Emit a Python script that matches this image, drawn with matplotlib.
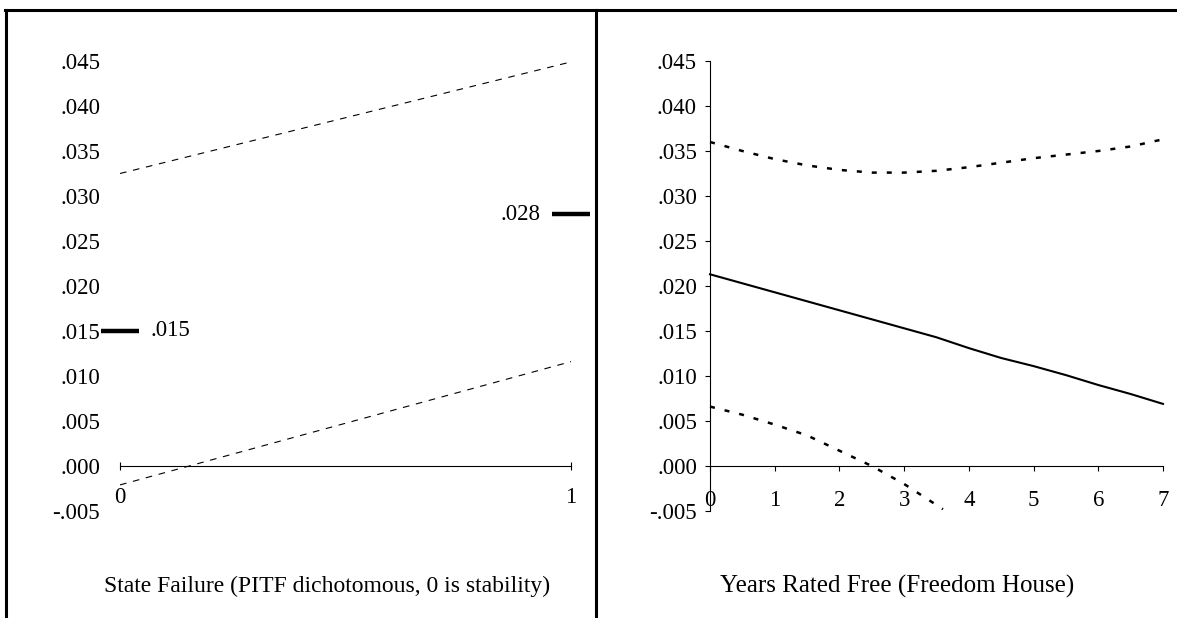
import matplotlib
matplotlib.use("Agg")
import matplotlib.pyplot as plt
from matplotlib.lines import Line2D
from matplotlib.ticker import FuncFormatter

plt.rcParams['font.family'] = ['Liberation Serif', 'DejaVu Serif']

# ---------------- data ----------------
# Left panel: State Failure (dichotomous)
sf_x = [0, 1]
sf_est = [0.015, 0.028]
sf_upper = [0.0325, 0.0449]
sf_lower = [-0.0021, 0.0116]
sf_est_labels = ['.015', '.028']
sf_xticks = [0, 1]

# Right panel: Years Rated Free
fh_x = [0, 0.5, 1, 1.5, 2, 2.5, 3, 3.5, 4, 4.5, 5, 5.5, 6, 6.5, 7]
fh_est = [0.0213, 0.0203, 0.0193, 0.0183, 0.0173, 0.0163, 0.0153, 0.0143,
          0.0131, 0.0120, 0.0111, 0.0101, 0.0090, 0.0080, 0.0069]
fh_upper = [0.0360, 0.0350, 0.0341, 0.0334, 0.0329, 0.0326, 0.0326, 0.0328,
            0.0332, 0.0337, 0.0342, 0.0346, 0.0350, 0.0355, 0.0363]
fh_lower_x = [0, 0.5, 1, 1.5, 2, 2.5, 3, 3.6]
fh_lower = [0.0066, 0.0057, 0.0046, 0.0034, 0.0017, 0.0000, -0.0020, -0.0048]
fh_xticks = [0, 1, 2, 3, 4, 5, 6, 7]

yticks = [-0.005, 0.0, 0.005, 0.010, 0.015, 0.020, 0.025, 0.030, 0.035, 0.040, 0.045]

xlabel_left = "State Failure (PITF dichotomous, 0 is stability)"
xlabel_right = "Years Rated Free (Freedom House)"

# ---------------- figure ----------------
W, H = 1177, 618
fig = plt.figure(figsize=(W / 100, H / 100), dpi=100)
FS = 16.5


def px_axes(x0, x1, ytop, ybot):
    return fig.add_axes([x0 / W, 1 - ybot / H, (x1 - x0) / W, (ybot - ytop) / H])


fmt = FuncFormatter(lambda v, p: ("%.3f" % v).replace("0.", ".", 1) if abs(v) > 1e-12 else ".000")

YLIM = (-0.007, 0.047)

# Left panel
axL = px_axes(29.8, 593.6, 43, 529)
axL.set_xlim(-0.2, 1.05)
axL.set_ylim(*YLIM)
axL.patch.set_visible(False)
for s in ['top', 'right']:
    axL.spines[s].set_visible(False)
axL.spines['left'].set_position(('data', 0))
axL.spines['left'].set_visible(False)
axL.spines['bottom'].set_position(('data', 0))
axL.spines['bottom'].set_bounds(0, 1)
axL.spines['bottom'].set_linewidth(0.8)
axL.set_yticks(yticks)
axL.yaxis.set_major_formatter(fmt)
axL.tick_params(axis='y', length=0, pad=14.4, labelsize=FS)
axL.set_xticks(sf_xticks)
axL.set_xticklabels([str(t) for t in sf_xticks])
axL.tick_params(axis='x', direction='inout', length=6, width=0.8, pad=12, labelsize=FS)

axL.plot(sf_x, sf_upper, color='black', lw=0.8, ls=(0, (6, 6)))
axL.plot(sf_x, sf_lower, color='black', lw=0.8, ls=(0, (6, 6)))
axL.plot(sf_x, sf_est, ls='none', marker='_', ms=27, mew=3.2, color='black')
axL.annotate(sf_est_labels[0], (sf_x[0], sf_est[0]), xytext=(22, 0), textcoords='offset points',
             ha='left', va='center', fontsize=FS)
axL.annotate(sf_est_labels[1], (sf_x[1], sf_est[1]), xytext=(-22, 0), textcoords='offset points',
             ha='right', va='center', fontsize=FS)

# Right panel
axR = px_axes(680.9, 1175.9, 43, 529)
axR.set_xlim(-0.45, 7.2)
axR.set_ylim(*YLIM)
axR.patch.set_visible(False)
for s in ['top', 'right']:
    axR.spines[s].set_visible(False)
axR.spines['left'].set_position(('data', 0))
axR.spines['left'].set_bounds(-0.005, 0.045)
axR.spines['left'].set_linewidth(0.8)
axR.spines['bottom'].set_position(('data', 0))
axR.spines['bottom'].set_bounds(0, 7)
axR.spines['bottom'].set_linewidth(0.8)
axR.set_yticks(yticks)
axR.yaxis.set_major_formatter(fmt)
axR.tick_params(axis='y', direction='out', length=3.6, width=0.8, pad=5.8, labelsize=FS)
axR.set_xticks(fh_xticks)
axR.set_xticklabels([str(t) for t in fh_xticks])
axR.tick_params(axis='x', direction='out', length=3.6, width=0.8, pad=13.7, labelsize=FS)

axR.plot(fh_x, fh_est, color='black', lw=1.5)
axR.plot(fh_x, fh_upper, color='black', lw=1.8, ls=(0, (2, 4)))
axR.plot(fh_lower_x, fh_lower, color='black', lw=1.8, ls=(0, (2, 4)))

# Frame lines
fig.add_artist(Line2D([5 / W, 1], [1 - 10 / H] * 2, transform=fig.transFigure, lw=2.2, color='black'))
fig.add_artist(Line2D([6 / W] * 2, [0, 1 - 10 / H], transform=fig.transFigure, lw=2.2, color='black'))
fig.add_artist(Line2D([596 / W] * 2, [0, 1 - 10 / H], transform=fig.transFigure, lw=2.2, color='black'))

# Bottom labels
fig.text(327 / W, 1 - 586 / H, xlabel_left, ha='center', va='center', fontsize=17)
fig.text(897 / W, 1 - 586 / H, xlabel_right, ha='center', va='center', fontsize=18)

fig.savefig("out.png", dpi=100)
